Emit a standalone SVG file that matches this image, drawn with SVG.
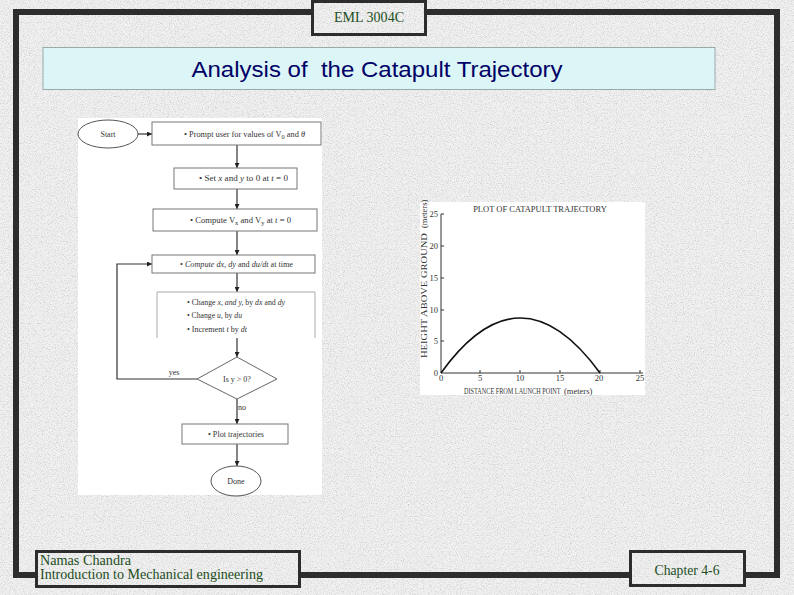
<svg xmlns="http://www.w3.org/2000/svg" width="794" height="595" viewBox="0 0 794 595">
<defs>
  <filter id="grain" x="0" y="0" width="794" height="595" filterUnits="userSpaceOnUse">
    <feTurbulence type="fractalNoise" baseFrequency="0.85" numOctaves="3" seed="7"/>
    <feColorMatrix type="matrix" values="1.3 0 0 0 0.28  1.3 0 0 0 0.28  1.3 0 0 0 0.28  0 0 0 0 0.5"/>
  </filter>
  <pattern id="bg" patternUnits="userSpaceOnUse" x="0" y="0" width="794" height="595">
    <rect width="794" height="595" fill="#e2e2e2"/>
    <rect width="794" height="595" fill="#000" filter="url(#grain)"/>
  </pattern>
  <marker id="ah" viewBox="0 0 10 10" refX="10" refY="5" markerWidth="5" markerHeight="5" orient="auto" markerUnits="userSpaceOnUse">
    <path d="M0,0 L10,5 L0,10 Z" fill="#222"/>
  </marker>
  <style>
    .frame{fill:none;stroke:#2d2d2d;stroke-width:6}
    .lbox{fill:url(#bg);stroke:#2d2d2d;stroke-width:3}
    .foot{font-family:"Liberation Serif",serif;font-size:14px;fill:#1d4d1d}
    .fc{font-family:"Liberation Serif",serif;font-size:8px;fill:#333}
    .fbox{fill:#fff;stroke:#777;stroke-width:1}
    .conn{fill:none;stroke:#333;stroke-width:1.2}
    .ax{fill:none;stroke:#333;stroke-width:1}
    .tk{font-family:"Liberation Serif",serif;font-size:8.5px;fill:#333}
  </style>
</defs>

<rect width="794" height="595" fill="url(#bg)"/>

<g id="frame">
  <rect class="frame" x="16" y="12" width="761" height="563"/>
</g>

<g id="header">
  <rect class="lbox" x="312.5" y="1.5" width="113" height="33"/>
  <text class="foot" x="369" y="22" text-anchor="middle" textLength="70" lengthAdjust="spacingAndGlyphs">EML 3004C</text>
</g>

<g id="title">
  <rect x="43" y="47.5" width="672" height="42" fill="#dcf5f7" stroke="#9aa" stroke-width="1"/>
  <text x="377" y="77" text-anchor="middle" font-family="Liberation Sans, Arial, sans-serif" font-size="22" fill="#000066" style="white-space:pre" textLength="371" lengthAdjust="spacingAndGlyphs">Analysis of  the Catapult Trajectory</text>
</g>

<g id="flowchart">
  <rect x="78" y="118" width="244" height="377" fill="#fff"/>
  <g id="connectors">
    <line class="conn" x1="138" y1="134" x2="152" y2="134" marker-end="url(#ah)"/>
    <line class="conn" x1="237" y1="145" x2="237" y2="168" marker-end="url(#ah)"/>
    <line class="conn" x1="237" y1="189" x2="237" y2="209" marker-end="url(#ah)"/>
    <line class="conn" x1="237" y1="231" x2="237" y2="255" marker-end="url(#ah)"/>
    <line class="conn" x1="237" y1="273" x2="237" y2="292" marker-end="url(#ah)"/>
    <line class="conn" x1="237" y1="338" x2="237" y2="357" marker-end="url(#ah)"/>
    <polyline class="conn" points="197,379 117,379 117,264 152,264" marker-end="url(#ah)"/>
    <line class="conn" x1="237" y1="399" x2="237" y2="424" marker-end="url(#ah)"/>
    <line class="conn" x1="237" y1="444" x2="237" y2="466" marker-end="url(#ah)"/>
    <text class="fc" x="174" y="375" text-anchor="middle" font-size="7">yes</text>
    <text class="fc" x="242" y="410" text-anchor="middle">no</text>
  </g>
  <g id="n-start">
    <ellipse cx="108" cy="134" rx="30" ry="14" fill="#fff" stroke="#555" stroke-width="1"/>
    <text class="fc" x="108" y="137" text-anchor="middle">Start</text>
  </g>
  <g id="n-prompt">
    <rect class="fbox" x="152" y="122" width="169" height="23"/>
    <text class="fc" x="184" y="137" textLength="121" lengthAdjust="spacingAndGlyphs">• Prompt user for values of V<tspan font-size="6" dy="2">0</tspan><tspan dy="-2"> and </tspan><tspan font-style="italic">θ</tspan></text>
  </g>
  <g id="n-set">
    <rect class="fbox" x="174" y="168" width="123" height="21"/>
    <text class="fc" x="199" y="181" textLength="89" lengthAdjust="spacingAndGlyphs">• Set <tspan font-style="italic">x</tspan> and <tspan font-style="italic">y</tspan> to 0 at <tspan font-style="italic">t</tspan> = 0</text>
  </g>
  <g id="n-compute-v">
    <rect class="fbox" x="153" y="209" width="164" height="22"/>
    <text class="fc" x="190" y="223" textLength="101" lengthAdjust="spacingAndGlyphs">• Compute V<tspan font-size="6" dy="2">x</tspan><tspan dy="-2"> and V</tspan><tspan font-size="6" dy="2">y</tspan><tspan dy="-2"> at </tspan><tspan font-style="italic">t</tspan> = 0</text>
  </g>
  <g id="n-compute-d">
    <rect class="fbox" x="152" y="255" width="163" height="18"/>
    <text class="fc" x="180" y="267" textLength="113" lengthAdjust="spacingAndGlyphs">• <tspan font-style="italic">Compute dx, dy</tspan> and <tspan font-style="italic">du/dt</tspan> at time</text>
  </g>
  <g id="n-change">
    <path d="M157,338 V292 H315 V338" fill="#fff" stroke="#aaa" stroke-width="1"/>
    <text class="fc" x="187" y="305" textLength="98" lengthAdjust="spacingAndGlyphs">• Change <tspan font-style="italic">x, and y,</tspan> by <tspan font-style="italic">dx</tspan> and <tspan font-style="italic">dy</tspan></text>
    <text class="fc" x="187" y="318" textLength="55" lengthAdjust="spacingAndGlyphs">• Change <tspan font-style="italic">u,</tspan> by <tspan font-style="italic">du</tspan></text>
    <text class="fc" x="187" y="332" textLength="60" lengthAdjust="spacingAndGlyphs">• Increment <tspan font-style="italic">t</tspan> by <tspan font-style="italic">dt</tspan></text>
  </g>
  <g id="n-decision">
    <polygon points="237,357 277,379 237,399 197,379" fill="#fff" stroke="#666" stroke-width="1"/>
    <text class="fc" x="237" y="382" text-anchor="middle">Is y &gt; 0?</text>
  </g>
  <g id="n-plot">
    <rect class="fbox" x="182" y="424" width="106" height="20"/>
    <text class="fc" x="208" y="437" textLength="56" lengthAdjust="spacingAndGlyphs">• Plot trajectories</text>
  </g>
  <g id="n-done">
    <ellipse cx="236" cy="481" rx="25" ry="15" fill="#fff" stroke="#555" stroke-width="1"/>
    <text class="fc" x="236" y="484" text-anchor="middle">Done</text>
  </g>
</g>

<g id="plot">
  <rect x="420" y="202" width="225" height="193" fill="#fff"/>
  <text class="tk" x="540" y="212" text-anchor="middle" font-size="8">PLOT OF CATAPULT TRAJECTORY</text>
  <path class="ax" d="M441,214 V373 H643"/>
  <path class="ax" d="M441,214 h3 M441,246 h3 M441,278 h3 M441,310 h3 M441,341 h3 M480,373 v-3 M520,373 v-3 M560,373 v-3 M600,373 v-3 M640,373 v-3"/>
  <g text-anchor="end">
    <text class="tk" x="438" y="217">25</text>
    <text class="tk" x="438" y="249">20</text>
    <text class="tk" x="438" y="281">15</text>
    <text class="tk" x="438" y="313">10</text>
    <text class="tk" x="438" y="344">5</text>
    <text class="tk" x="438" y="376">0</text>
  </g>
  <g text-anchor="middle">
    <text class="tk" x="441" y="381">0</text>
    <text class="tk" x="480" y="381">5</text>
    <text class="tk" x="520" y="381">10</text>
    <text class="tk" x="560" y="381">15</text>
    <text class="tk" x="599" y="381">20</text>
    <text class="tk" x="640" y="381">25</text>
  </g>
  <text class="tk" transform="translate(464,393.5) scale(0.73,1)">DISTANCE FROM LAUNCH POINT</text>
  <text class="tk" x="564" y="393.5" font-size="7">(meters)</text>
  <text class="tk" transform="translate(427,358) rotate(-90) scale(1.24,1)" font-size="9.5">HEIGHT ABOVE GROUND</text>
  <text class="tk" transform="translate(427,228) rotate(-90)" font-size="6.5">(meters)</text>
  <path d="M441,373 Q520,263 600,373" fill="none" stroke="#111" stroke-width="1.6"/>
</g>

<g id="footer-left">
  <rect class="lbox" x="36.5" y="551.5" width="263" height="35"/>
  <text class="foot" x="40" y="565" textLength="91" lengthAdjust="spacingAndGlyphs">Namas Chandra</text>
  <text class="foot" x="40" y="579" textLength="223" lengthAdjust="spacingAndGlyphs">Introduction to Mechanical engineering</text>
</g>

<g id="footer-right">
  <rect class="lbox" x="630.5" y="551.5" width="114" height="34"/>
  <text class="foot" x="687" y="575" text-anchor="middle" textLength="65" lengthAdjust="spacingAndGlyphs">Chapter 4-6</text>
</g>
</svg>
